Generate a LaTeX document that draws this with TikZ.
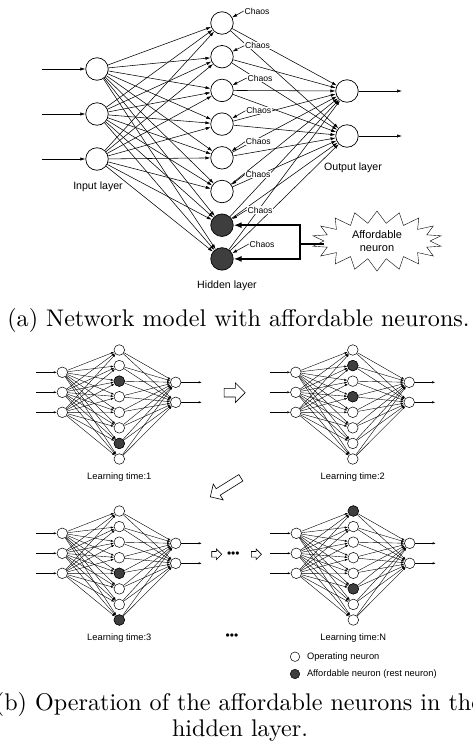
\documentclass[tikz,border=0pt]{standalone}
\usepackage{fontspec}
\usetikzlibrary{arrows.meta,shapes.symbols,shapes.arrows}
\newfontfamily\labelfont{Liberation Sans}
\newfontfamily\capfont{lmroman10-regular.otf}
\definecolor{restgray}{HTML}{3E3E3E}

\begin{document}
\begin{tikzpicture}[x=1pt,y=-1pt,
    neuron/.style={circle,draw,fill=white,minimum size=22.5pt,inner sep=0pt,line width=0.7pt},
    rest/.style={fill=restgray},
    conn/.style={line width=0.55pt,-{Latex[length=5pt,width=3.2pt]}},
    mini/.style={circle,draw,fill=white,minimum size=10.6pt,inner sep=0pt,line width=0.5pt},
    minilink/.style={line width=0.4pt,-{Latex[length=3pt,width=2.2pt]}},
    chaoslabel/.style={fill=white,inner sep=0.6pt,font=\labelfont\fontsize{8.6}{9}\selectfont},
    layerlabel/.style={font=\labelfont\fontsize{10.6}{12}\selectfont},
    smalllabel/.style={font=\labelfont\fontsize{9.3}{11}\selectfont},
    hollow/.style={single arrow,draw,fill=white,inner sep=0pt,line width=0.6pt},
    bigcap/.style={font=\capfont\fontsize{24.1}{27}\selectfont,inner sep=0pt}]

    \useasboundingbox (0,0) rectangle (473,745);

    % (a) the network with affordable neurons
    % Input layer
    \foreach \i/\y in {1/69,2/114,3/159} {
        \node[neuron] (in\i) at (97,\y) {};
        \coordinate (feed\i) at (42,\y);
        \draw[conn] (feed\i) -- (in\i);
    }
    % Hidden layer, the last two are resting
    \foreach \j in {1,...,6} {
        \node[neuron] (hid\j) at (222,23+33.7*\j-33.7) {};
    }
    \foreach \j in {7,8} {
        \node[neuron,rest] (hid\j) at (222,23+33.7*\j-33.7) {};
    }
    % Output layer
    \foreach \k/\y in {1/91,2/136} {
        \node[neuron] (out\k) at (347,\y) {};
        \coordinate (res\k) at (402,\y);
        \draw[conn] (out\k) -- (res\k);
    }

    % Draw the weights
    \foreach \i in {1,2,3}
        \foreach \j in {1,...,8}
            \draw[conn] (in\i) -- (hid\j);
    \foreach \j in {1,...,8}
        \foreach \k in {1,2}
            \draw[conn] (hid\j) -- (out\k);

    % Chaos input of each hidden neuron
    \foreach \j/\cx/\cy in {1/257/11,2/257.5/45.7,3/260/78,4/258.7/110.7,5/258.3/141.7,6/258/174.7,7/260/210,8/262/244} {
        \node[chaoslabel] (chaos\j) at (\cx,\cy) {Chaos};
        \draw[conn] (chaos\j.west) -- (hid\j);
    }

    % Affordable neuron selector
    \node[starburst,draw,fill=white,starburst points=18,starburst point height=12pt,
          random starburst=0,minimum width=130pt,minimum height=60pt,inner sep=0pt,align=center,
          font=\labelfont\fontsize{11}{12.4}\selectfont] (burst) at (377,241) {Affordable\\neuron};
    \coordinate (fork) at (300,244);
    \draw[line width=1.6pt] (fork) -- (fork -| burst.west);
    \draw[line width=1.6pt,-{Latex[length=8pt,width=6pt]}] (fork) |- (hid7);
    \draw[line width=1.6pt,-{Latex[length=8pt,width=6pt]}] (fork) |- (hid8);

    % Layer names
    \node[layerlabel] (inname) at (98,187) {Input layer};
    \node[layerlabel] (outname) at (353,168) {Output layer};
    \node[layerlabel] (hidname) at (227,286) {Hidden layer};

    \node[bigcap,anchor=base] (capa) at (238.5,326) {(a) Network model with affordable neurons.};

    % (b) one small network per learning time
    \newcommand{\minnet}[5]{
        \begin{scope}[shift={(#2,#3)}]
            \foreach \i in {1,2,3} {
                \node[mini] (#1in\i) at (62.3,352.3+20*\i) {};
                \coordinate (#1feed\i) at (36,352.3+20*\i);
                \draw[minilink] (#1feed\i) -- (#1in\i);
            }
            \foreach \j in {1,...,8} {
                \node[mini] (#1hid\j) at (119.3,350+15.57*\j-15.57) {};
            }
            \foreach \j in {#4} {
                \node[mini,rest] (#1rest\j) at (#1hid\j) {};
            }
            \foreach \k in {1,2} {
                \node[mini] (#1out\k) at (175.7,362.3+20*\k) {};
                \coordinate (#1res\k) at (201.7,362.3+20*\k);
                \draw[minilink] (#1out\k) -- (#1res\k);
            }
            \foreach \i in {1,2,3}
                \foreach \j in {1,...,8}
                    \draw[minilink] (#1in\i) -- (#1hid\j);
            \foreach \j in {1,...,8}
                \foreach \k in {1,2}
                    \draw[minilink] (#1hid\j) -- (#1out\k);
            \node[smalllabel] (#1time) at (119.3,476.7) {Learning time:#5};
        \end{scope}
    }

    \minnet{a}{0}{0}{3,7}{1}
    \minnet{b}{233.5}{0}{2,4}{2}
    \minnet{c}{0}{161}{5,8}{3}
    \minnet{d}{234}{161}{1,6}{N}

    % Arrows between the learning times
    \node[hollow,minimum height=21pt,text height=4pt,text depth=4pt,single arrow head extend=5.5pt] (go12) at (232.5,392.7) {};
    \node[hollow,minimum height=36pt,text height=3.5pt,text depth=3.5pt,single arrow head extend=5.5pt,rotate=212] (go23) at (227.2,486.3) {};
    \node[hollow,minimum height=10pt,text height=2.5pt,text depth=2.5pt,single arrow head extend=2.5pt] (go3a) at (215.3,554.3) {};
    \node[smalllabel,font=\labelfont\fontsize{12}{12}\selectfont] (skip) at (233.3,554.3) {•••};
    \node[hollow,minimum height=10pt,text height=2.5pt,text depth=2.5pt,single arrow head extend=2.5pt] (go3b) at (255,554.3) {};
    \node[smalllabel,font=\labelfont\fontsize{12}{12}\selectfont] (skipdots) at (232,636.7) {•••};

    % Legend
    \node[mini,minimum size=9.5pt] (opkey) at (295,656.7) {};
    \node[smalllabel,anchor=west] (optext) at (303.5,656.7) {Operating neuron};
    \node[mini,minimum size=9.5pt,rest] (restkey) at (295,674) {};
    \node[smalllabel,anchor=west] (resttext) at (303.5,674) {Affordable neuron (rest neuron)};

    \node[bigcap,anchor=base] (capb) at (238.5,710) {(b) Operation of the affordable neurons in the};
    \node[bigcap,anchor=base] (capbb) at (240,736) {hidden layer.};
\end{tikzpicture}
\end{document}
